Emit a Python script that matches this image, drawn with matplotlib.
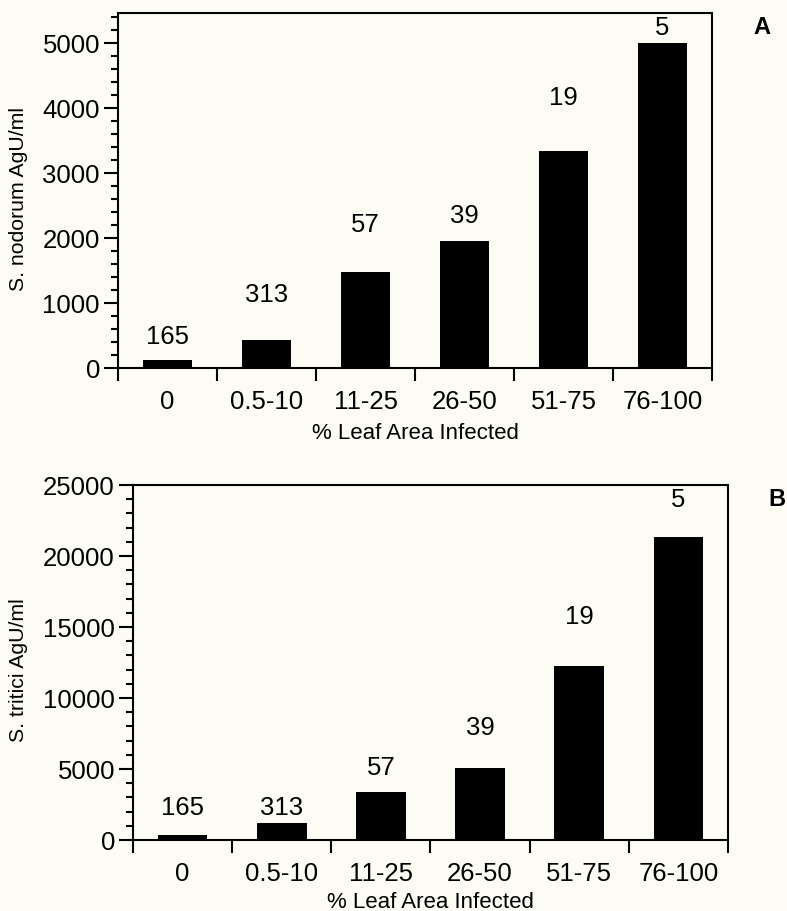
import matplotlib
matplotlib.use("Agg")
import matplotlib.pyplot as plt
from matplotlib.ticker import MultipleLocator, FixedLocator
import numpy as np

plt.rcParams['font.family'] = ['Liberation Sans', 'DejaVu Sans']

categories = ["0", "0.5-10", "11-25", "26-50", "51-75", "76-100"]
counts = ["165", "313", "57", "39", "19", "5"]

nodorum_values = [120, 430, 1480, 1950, 3340, 5000]
nodorum_label_y = [490, 1140, 2215, 2355, 4170, 5245]

tritici_values = [350, 1200, 3380, 5070, 12250, 21340]
tritici_label_y = [2320, 2320, 5140, 7960, 15780, 24010]

bg = '#fdfcf4'
fig = plt.figure(figsize=(7.87, 9.12), dpi=100, facecolor=bg)


def panel(rect, values, label_y, ylim, major, minor, ylabel, ylabel_x, xlabel_y, letter, letter_pos):
    ax = fig.add_axes(rect)
    ax.set_facecolor(bg)
    x = np.arange(len(categories))
    ax.bar(x, values, width=0.5, color='black')
    for xi, ly, c in zip(x, label_y, counts):
        ax.text(xi, ly, c, ha='center', va='center', fontsize=18.5)
    ax.set_xlim(-0.5, len(categories) - 0.5)
    ax.set_ylim(0, ylim)
    for s in ax.spines.values():
        s.set_linewidth(1.5)
    ax.xaxis.set_major_locator(FixedLocator(np.arange(-0.5, len(categories), 1.0)))
    ax.xaxis.set_major_formatter(plt.NullFormatter())
    ax.set_xticks(x, categories, minor=True)
    ax.tick_params(axis='x', which='major', direction='out', length=9.5, width=1.5)
    ax.tick_params(axis='x', which='minor', length=0, pad=15, labelsize=18.5)
    ax.yaxis.set_major_locator(MultipleLocator(major))
    ax.yaxis.set_minor_locator(MultipleLocator(minor))
    ax.tick_params(axis='y', which='major', direction='out', length=10, width=1.5, pad=3, labelsize=18.5)
    ax.tick_params(axis='y', which='minor', direction='out', length=5, width=1.5)
    ax.set_ylabel(ylabel, fontsize=15.3)
    ax.yaxis.set_label_coords(ylabel_x, 0.48)
    ax.set_xlabel("% Leaf Area Infected", fontsize=16)
    ax.xaxis.set_label_coords(0.5, xlabel_y)
    fig.text(letter_pos[0], letter_pos[1], letter, fontsize=17, fontweight='bold', ha='center', va='center')
    return ax


panel([118 / 787, 1 - 369 / 912, 594 / 787, 355 / 912], nodorum_values, nodorum_label_y,
      5460, 1000, 200, "S. nodorum AgU/ml", -0.152, -0.152, "A", (762 / 787, 1 - 28 / 912))
panel([133 / 787, 1 - 841 / 912, 595 / 787, 355 / 912], tritici_values, tritici_label_y,
      25000, 5000, 1000, "S. tritici AgU/ml", -0.176, -0.143, "B", (777 / 787, 1 - 500 / 912))

fig.savefig("out.png", dpi=100, facecolor=bg)
